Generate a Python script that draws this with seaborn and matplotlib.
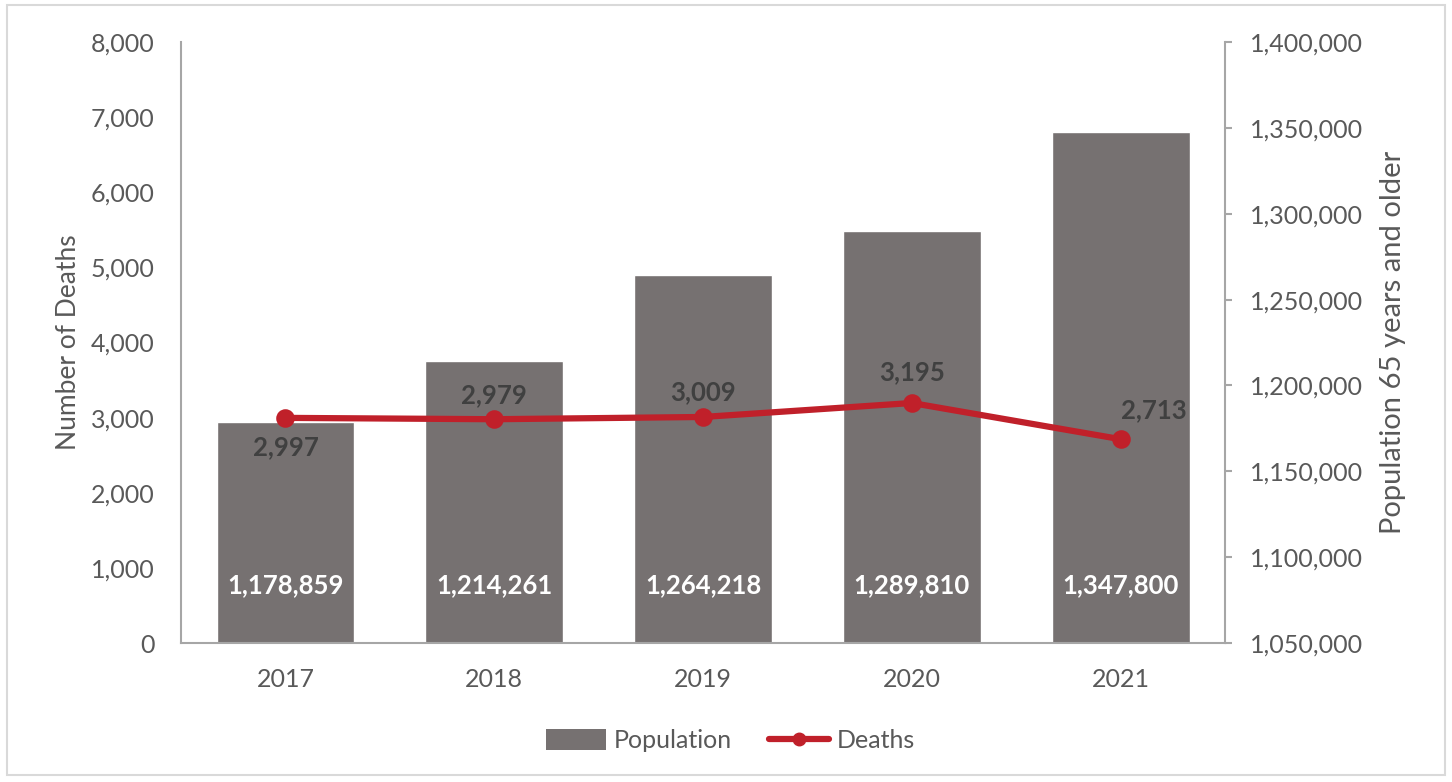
import matplotlib
matplotlib.use("Agg")
import matplotlib.pyplot as plt
from matplotlib.patches import Rectangle, Patch
from matplotlib.lines import Line2D
from matplotlib.ticker import FuncFormatter
import seaborn as sns
import pandas as pd

years = ["2017", "2018", "2019", "2020", "2021"]
population = [1178859, 1214261, 1264218, 1289810, 1347800]
deaths = [2997, 2979, 3009, 3195, 2713]

BAR_COLOR = "#767171"
LINE_COLOR = "#C0202A"
TEXT_COLOR = "#595959"
AXIS_COLOR = "#A6A6A6"

sns.set_theme(style="white")
plt.rcParams["font.family"] = ["Lato", "DejaVu Sans"]

df = pd.DataFrame({"year": years, "population": population, "deaths": deaths})

fig = plt.figure(figsize=(14.52, 7.82), dpi=100)
ax = fig.add_axes([0.1247, 0.1777, 0.8437 - 0.1247, 0.9463 - 0.1777])

# Population bars (scale shown on the right)
sns.barplot(data=df, x="year", y="population", color=BAR_COLOR, width=0.66,
            saturation=1, ax=ax, zorder=1)
ax.set_xlabel("")

# Deaths line (scale shown on the left), drawn above the bars
ax2 = ax.twinx()
sns.pointplot(data=df, x="year", y="deaths", color=LINE_COLOR, ax=ax2,
              markers="o", markersize=10, linewidth=4.5, errorbar=None)
ax2.set_xlabel("")

thousands = FuncFormatter(lambda v, p: f"{int(v):,}")

ax.set_ylim(1050000, 1400000)
ax.set_yticks(range(1050000, 1400001, 50000))
ax.yaxis.tick_right()
ax.yaxis.set_label_position("right")
ax.yaxis.set_major_formatter(thousands)
ax.set_ylabel("Population 65 years and older", fontsize=21, color=TEXT_COLOR, labelpad=12)

ax2.set_ylim(0, 8000)
ax2.set_yticks(range(0, 8001, 1000))
ax2.yaxis.tick_left()
ax2.yaxis.set_label_position("left")
ax2.yaxis.set_major_formatter(thousands)
ax2.set_ylabel("Number of Deaths", fontsize=19, color=TEXT_COLOR, labelpad=7)

ax.set_xlim(-0.5, 4.5)
ax2.set_xlim(-0.5, 4.5)

for a in (ax, ax2):
    for s in a.spines.values():
        s.set_visible(False)
for s in ("right", "bottom"):
    ax.spines[s].set_visible(True)
    ax.spines[s].set_color(AXIS_COLOR)
    ax.spines[s].set_linewidth(1.5)
ax2.spines["left"].set_visible(True)
ax2.spines["left"].set_color(AXIS_COLOR)
ax2.spines["left"].set_linewidth(1.5)

ax.tick_params(axis="y", which="both", left=False, labelleft=False, right=True,
               labelright=True, length=5, width=1.5, color=AXIS_COLOR,
               labelsize=18, labelcolor=TEXT_COLOR, pad=13)
ax.tick_params(axis="x", bottom=False, labelsize=18, labelcolor=TEXT_COLOR, pad=12)
ax2.tick_params(axis="y", left=False, right=False, labelright=False, labelleft=True,
                labelsize=18, labelcolor=TEXT_COLOR, pad=13)

# Population values inside the bars
for i, v in enumerate(population):
    ax.annotate(f"{v:,}", xy=(i, 0.0965), xycoords=("data", "axes fraction"),
                ha="center", va="center", fontsize=18.5, fontweight="bold", color="white")

# Deaths values next to the markers (offsets in points)
label_offsets = [(0, -21), (0, 17), (0, 18), (0, 22), (24, 21)]
for i, (v, off) in enumerate(zip(deaths, label_offsets)):
    ax2.annotate(f"{v:,}", xy=(i, v), xytext=off, textcoords="offset points",
                 ha="center", va="center", fontsize=18.5, fontweight="bold", color="#404040")

handles = [Patch(facecolor=BAR_COLOR, edgecolor="none"),
           Line2D([0], [0], color=LINE_COLOR, lw=4.5, marker="o", markersize=9)]
fig.legend(handles, ["Population", "Deaths"], loc="center", bbox_to_anchor=(0.503, 0.053),
           ncol=2, frameon=False, fontsize=18, labelcolor=TEXT_COLOR,
           handlelength=2.4, handleheight=0.9, handletextpad=0.3, columnspacing=1.5)

fig.patches.append(Rectangle((7 / 1452, 1 - 775 / 782), (1445 - 7) / 1452, (775 - 5) / 782,
                             transform=fig.transFigure, fill=False, edgecolor="#D9D9D9",
                             linewidth=1.5))

fig.savefig("out.png", dpi=100)
